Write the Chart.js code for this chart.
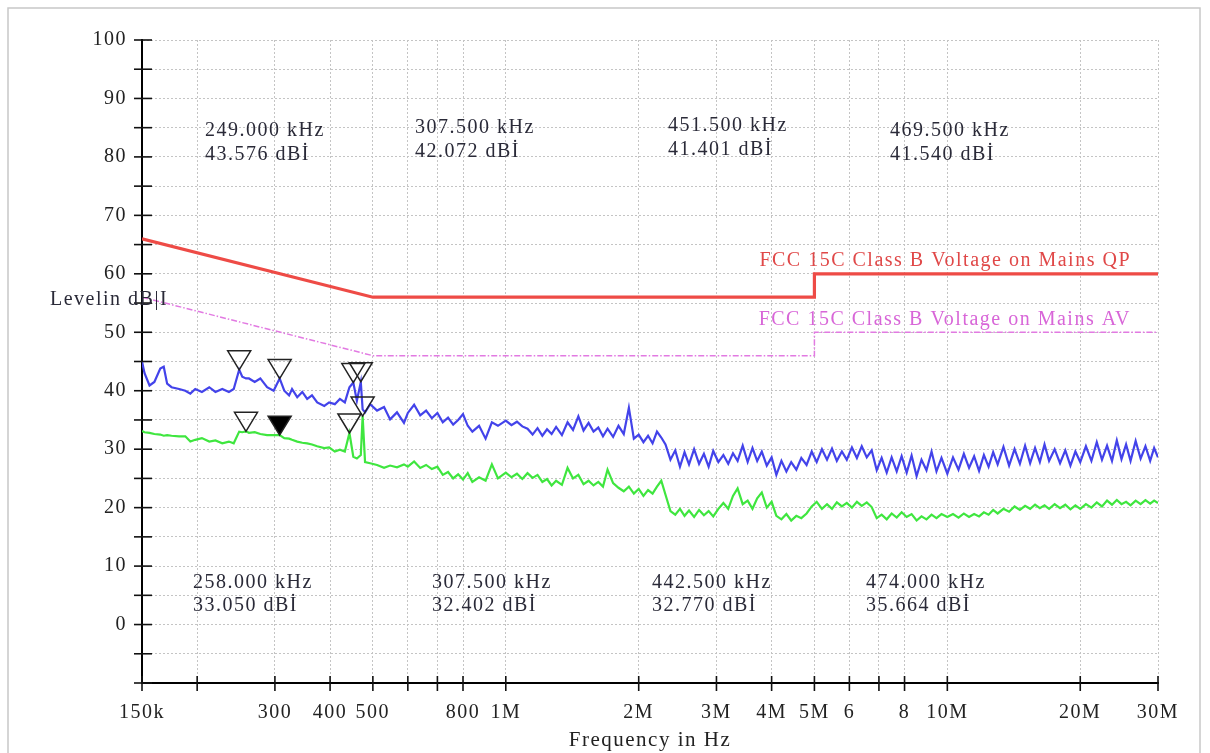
<!DOCTYPE html>
<html>
<head>
<meta charset="utf-8">
<script src="https://cdn.jsdelivr.net/npm/chart.js@4.4.0/dist/chart.umd.min.js"></script>
<style>
html, body { margin: 0; padding: 0; background: #fff; }
#wrap { width: 1210px; height: 753px; }
</style>
</head>
<body>
<div id="wrap"><canvas id="myChart" width="1210" height="753"></canvas></div>
<script>
const SERIF = '"Liberation Serif", "DejaVu Serif", serif';

// sweep frequencies in MHz
const freqMHz = [
  0.150, 0.152, 0.156, 0.160, 0.165, 0.168, 0.171, 0.175, 0.182, 0.188,
  0.193, 0.198, 0.205, 0.213, 0.220, 0.228, 0.236, 0.242, 0.249, 0.253,
  0.258, 0.262, 0.270, 0.278, 0.288, 0.298, 0.3075, 0.315, 0.323, 0.328,
  0.337, 0.346, 0.355, 0.364, 0.374, 0.388, 0.398, 0.410, 0.421, 0.432,
  0.4425, 0.4515, 0.460, 0.4695, 0.474, 0.480, 0.493, 0.511, 0.530, 0.547,
  0.567, 0.588, 0.60, 0.62, 0.64, 0.66, 0.68, 0.70, 0.72, 0.74,
  0.76, 0.78, 0.80, 0.82, 0.84, 0.87, 0.90, 0.93, 0.96, 1.00,
  1.03, 1.06, 1.09, 1.12, 1.15, 1.18, 1.21, 1.24, 1.27, 1.30,
  1.34, 1.38, 1.42, 1.46, 1.50, 1.54, 1.58, 1.62, 1.66, 1.70,
  1.75, 1.80, 1.85, 1.90, 1.95, 2.00, 2.05, 2.10, 2.15, 2.20,
  2.25, 2.30, 2.36, 2.42, 2.48, 2.54, 2.60, 2.67, 2.74, 2.81,
  2.88, 2.95, 3.03, 3.11, 3.19, 3.27, 3.35, 3.44, 3.53, 3.62,
  3.71, 3.80, 3.90, 4.00, 4.10, 4.21, 4.32, 4.43, 4.55, 4.67,
  4.80, 4.93, 5.06, 5.20, 5.34, 5.48, 5.62, 5.77, 5.92, 6.08,
  6.24, 6.40, 6.57, 6.74, 6.92, 7.10, 7.29, 7.48, 7.68, 7.88,
  8.09, 8.30, 8.52, 8.74, 8.97, 9.21, 9.45, 9.70, 10.0, 10.3,
  10.6, 10.9, 11.2, 11.5, 11.8, 12.1, 12.4, 12.7, 13.0, 13.4,
  13.8, 14.2, 14.6, 15.0, 15.4, 15.8, 16.2, 16.6, 17.0, 17.5,
  18.0, 18.5, 19.0, 19.5, 20.0, 20.6, 21.2, 21.8, 22.4, 23.0,
  23.6, 24.2, 24.8, 25.4, 26.0, 26.7, 27.4, 28.1, 28.8, 29.4,
  30.0
];

// peak detector trace (blue)
const peakDb = [
  45.0, 43.0, 40.9, 41.5, 43.8, 44.1, 41.2, 40.6, 40.3, 40.0,
  39.5, 40.3, 39.8, 40.6, 39.8, 40.3, 39.8, 40.3, 43.6, 42.4,
  42.1, 42.1, 41.5, 42.1, 40.6, 40.0, 42.1, 40.0, 39.2, 40.3,
  38.9, 39.8, 38.6, 39.2, 38.0, 37.4, 38.0, 37.7, 38.6, 38.0,
  40.6, 41.4, 38.3, 41.5, 36.8, 36.3, 37.7, 36.6, 37.2, 35.1,
  36.3, 34.5, 36.2, 37.6, 35.8, 36.6, 35.3, 36.2, 34.6, 35.4,
  34.2, 35.0, 36.0, 34.0, 33.0, 34.0, 31.8, 34.6, 34.0, 34.9,
  34.1, 34.7, 33.9, 33.5, 32.5, 33.6, 32.3, 33.4, 32.6, 33.8,
  32.4, 34.6, 33.3, 35.6, 33.2, 34.5, 33.0, 33.7, 32.2, 33.5,
  32.1, 34.0, 32.6, 37.1, 31.8, 32.5, 31.2, 32.3, 31.0, 33.0,
  32.0, 30.8, 28.2, 29.8, 27.0, 29.5, 27.4, 30.0, 27.5, 29.2,
  27.0, 29.7, 27.8, 29.0, 27.5, 29.3, 28.0, 30.6, 27.8, 30.2,
  28.0, 29.6, 27.2, 28.6, 25.6, 28.0, 26.2, 27.8, 26.5, 28.5,
  27.3, 29.6, 27.8, 30.0, 28.2, 30.1, 28.0, 29.6, 28.2, 30.3,
  28.5, 30.5, 28.6, 29.8, 26.4, 28.5, 26.0, 28.6, 26.2, 28.8,
  26.0, 28.9, 25.4, 28.2, 26.4, 29.6, 26.2, 28.5, 25.8, 28.6,
  26.5, 29.2, 26.8, 28.8, 26.3, 29.0, 27.0, 29.5, 27.4, 30.4,
  27.2, 30.0, 27.5, 30.6, 27.6, 30.2, 27.8, 30.8, 28.0, 30.0,
  27.6, 29.8, 27.2, 29.6, 27.8, 30.5, 28.0, 31.2, 28.2, 30.6,
  28.0, 31.5, 28.3, 30.8, 28.0, 31.4, 28.4, 30.5, 28.0, 30.2,
  28.6
];

// average detector trace (green)
const avgDb = [
  33.1, 32.9, 32.8, 32.6, 32.5, 32.3, 32.4, 32.3, 32.2, 32.2,
  31.3, 31.6, 31.9, 31.3, 31.5, 31.0, 31.3, 31.0, 33.0, 32.9,
  33.05, 32.8, 32.9, 32.6, 32.4, 32.4, 32.4, 31.9, 31.8, 31.6,
  31.3, 31.1, 31.0, 30.8, 30.5, 30.2, 30.3, 29.6, 29.9, 29.6,
  32.77, 28.7, 28.4, 29.0, 35.66, 27.8, 27.6, 27.3, 26.8, 27.2,
  26.9, 27.4, 27.0, 27.9, 26.8, 27.3, 26.6, 27.0, 25.6, 26.1,
  25.0, 25.7, 24.8, 25.9, 24.4, 25.2, 24.6, 27.4, 25.0, 26.0,
  25.2, 25.8, 24.9, 25.9, 25.1, 25.6, 24.4, 24.9, 23.8, 24.6,
  23.9, 26.8, 25.0, 25.6, 24.0, 24.6, 23.8, 24.4, 23.6, 26.5,
  24.2, 23.4, 22.8, 23.6, 22.4, 23.2, 22.0, 23.0, 22.4, 23.6,
  24.6, 22.2, 19.4, 18.8, 19.8, 18.6, 19.5, 18.4, 19.6, 18.7,
  19.4, 18.5, 19.8, 20.8, 19.8, 22.0, 23.3, 20.6, 21.2, 19.8,
  21.6, 22.6, 20.0, 21.0, 18.6, 18.0, 18.9, 17.8, 18.6, 18.2,
  19.0, 20.2, 21.0, 19.8, 20.6, 19.8, 20.9, 20.2, 20.8, 20.0,
  21.0, 20.3, 20.9, 20.1, 18.2, 18.8, 18.0, 19.0, 18.3, 19.2,
  18.4, 18.9, 17.8, 18.5, 18.0, 18.8, 18.2, 18.9, 18.4, 18.9,
  18.3, 19.0, 18.4, 18.9, 18.5, 19.2, 18.8, 19.6, 19.0, 19.8,
  19.3, 20.2, 19.6, 20.3, 19.8, 20.5, 19.9, 20.4, 19.8, 20.6,
  19.9, 20.5, 19.7, 20.4, 19.8, 20.6, 20.0, 20.9, 20.2, 21.2,
  20.5, 21.3, 20.6, 21.0, 20.4, 21.2, 20.6, 21.3, 20.7, 21.2,
  20.8
];

// limit lines
const limitFreq = [0.15, 0.5, 5, 5, 30];
const qpLimit = [66, 56, 56, 60, 60];
const avLimit = [56, 46, 46, 50, 50];

// markers
const peakMarkFreq = [0.249, 0.3075, 0.4515, 0.4695];
const peakMarkDb = [43.576, 42.072, 41.401, 41.540];
const avgMarkFreq = [0.258, 0.3075, 0.4425, 0.474];
const avgMarkDb = [33.050, 32.402, 32.770, 35.664];
const avgMarkFilled = [false, true, false, false];

// axis ticks
const xTickValues = [0.15, 0.2, 0.3, 0.4, 0.5, 0.6, 0.7, 0.8, 1, 2, 3, 4, 5, 6, 7, 8, 10, 20, 30];
const xTickLabels = ['150k', '', '300', '400', '500', '', '', '800', '1M', '2M', '3M', '4M', '5M', '6', '', '8', '10M', '20M', '30M'];
const yTickValues = [-10, -5, 0, 5, 10, 15, 20, 25, 30, 35, 40, 45, 50, 55, 60, 65, 70, 75, 80, 85, 90, 95, 100];

const pts = (xs, ys) => xs.map((x, i) => ({ x: x, y: ys[i] }));

const extras = {
    id: 'emiExtras',
    beforeDraw(chart) {
        const c = chart.ctx;
        c.save();
        c.strokeStyle = '#c8c8c8';
        c.lineWidth = 1.5;
        c.strokeRect(8, 8, 1192, 770);
        c.restore();
        c.letterSpacing = '1.5px';
    },
    afterDraw(chart) {
        const c = chart.ctx;
        const xs = chart.scales.x;
        const ys = chart.scales.y;
        const area = chart.chartArea;
        c.save();
        // tick marks crossing the axes
        c.strokeStyle = '#111';
        c.lineWidth = 1.6;
        xTickValues.forEach(v => {
            const px = xs.getPixelForValue(v);
            c.beginPath();
            c.moveTo(px, area.bottom - 7);
            c.lineTo(px, area.bottom + 8);
            c.stroke();
        });
        yTickValues.forEach(v => {
            const py = ys.getPixelForValue(v);
            c.beginPath();
            c.moveTo(area.left - 8, py);
            c.lineTo(area.left + 10, py);
            c.stroke();
        });

        // marker triangles
        const tri = (f, db, filled) => {
            const px = xs.getPixelForValue(f);
            const py = ys.getPixelForValue(db);
            c.beginPath();
            c.moveTo(px, py);
            c.lineTo(px - 11.5, py - 19);
            c.lineTo(px + 11.5, py - 19);
            c.closePath();
            if (filled) {
                c.fillStyle = '#000';
                c.fill();
            }
            c.strokeStyle = '#222';
            c.lineWidth = 1.5;
            c.stroke();
        };
        peakMarkFreq.forEach((f, i) => tri(f, peakMarkDb[i], false));
        avgMarkFreq.forEach((f, i) => tri(f, avgMarkDb[i], avgMarkFilled[i]));

        // marker readouts
        c.letterSpacing = '1.5px';
        c.font = '20px ' + SERIF;
        c.fillStyle = '#2a2a38';
        c.textAlign = 'left';
        c.textBaseline = 'middle';
        const topPos = [[205, 131], [415, 128], [668, 126], [890, 131]];
        peakMarkFreq.forEach((f, i) => {
            c.fillText((f * 1000).toFixed(3) + ' kHz', topPos[i][0], topPos[i][1]);
            c.fillText(peakMarkDb[i].toFixed(3) + ' dBİ', topPos[i][0], topPos[i][1] + 24);
        });
        const botPos = [[193, 583], [432, 583], [652, 583], [866, 583]];
        avgMarkFreq.forEach((f, i) => {
            c.fillText((f * 1000).toFixed(3) + ' kHz', botPos[i][0], botPos[i][1]);
            c.fillText(avgMarkDb[i].toFixed(3) + ' dBİ', botPos[i][0], botPos[i][1] + 23);
        });

        // limit labels
        c.textAlign = 'right';
        c.fillStyle = '#e04848';
        c.fillText('FCC 15C Class B Voltage on Mains QP', 1131, 261);
        c.fillStyle = '#d866d8';
        c.fillText('FCC 15C Class B Voltage on Mains AV', 1131, 320);

        // y axis caption
        c.textAlign = 'left';
        c.fillStyle = '#2a2a38';
        c.fillText('Levelin dB|I', 50, 300);
        c.restore();
    }
};

const ctx = document.getElementById('myChart').getContext('2d');

const myChart = new Chart(ctx, {
    type: 'line',
    data: {
        datasets: [
            {
                label: 'FCC 15C Class B Voltage on Mains QP',
                data: pts(limitFreq, qpLimit),
                borderColor: '#ee4b46',
                borderWidth: 3.2
            },
            {
                label: 'FCC 15C Class B Voltage on Mains AV',
                data: pts(limitFreq, avLimit),
                borderColor: '#e27ae2',
                borderWidth: 1.5,
                borderDash: [6, 2, 1.5, 2]
            },
            {
                label: 'Peak',
                data: pts(freqMHz, peakDb),
                borderColor: '#4343ea',
                borderWidth: 2.2
            },
            {
                label: 'Average',
                data: pts(freqMHz, avgDb),
                borderColor: '#3fe63f',
                borderWidth: 2.2
            }
        ]
    },
    options: {
        responsive: false,
        animation: false,
        events: [],
        layout: { padding: { left: 0, right: 52, top: 40, bottom: 0 } },
        elements: { point: { radius: 0 }, line: { tension: 0 } },
        plugins: {
            legend: { display: false },
            tooltip: { enabled: false }
        },
        scales: {
            x: {
                type: 'logarithmic',
                min: 0.15,
                max: 30,
                afterBuildTicks: s => { s.ticks = xTickValues.map(v => ({ value: v })); },
                afterFit: s => { s.height = 70; },
                ticks: {
                    autoSkip: false,
                    maxRotation: 0,
                    padding: 18,
                    color: '#222',
                    font: { family: SERIF, size: 20 },
                    callback: (v, i) => xTickLabels[i]
                },
                grid: { color: '#c4c4c4', lineWidth: 1, drawTicks: false },
                border: { display: true, color: '#000', width: 2, dash: [2, 2] },
                title: {
                    display: true,
                    text: 'Frequency in Hz',
                    color: '#222',
                    font: { family: SERIF, size: 21 },
                    padding: { top: 0, bottom: 0 }
                }
            },
            y: {
                min: -10,
                max: 100,
                afterBuildTicks: s => { s.ticks = yTickValues.map(v => ({ value: v })); },
                afterFit: s => { s.width = 142; },
                ticks: {
                    padding: 15,
                    color: '#222',
                    font: { family: SERIF, size: 20 },
                    callback: v => (v % 10 === 0 && v >= 0 ? String(v) : '')
                },
                grid: { color: '#c4c4c4', lineWidth: 1, drawTicks: false },
                border: { display: true, color: '#000', width: 2, dash: [2, 2] }
            }
        }
    },
    plugins: [extras]
});
</script>
</body>
</html>
